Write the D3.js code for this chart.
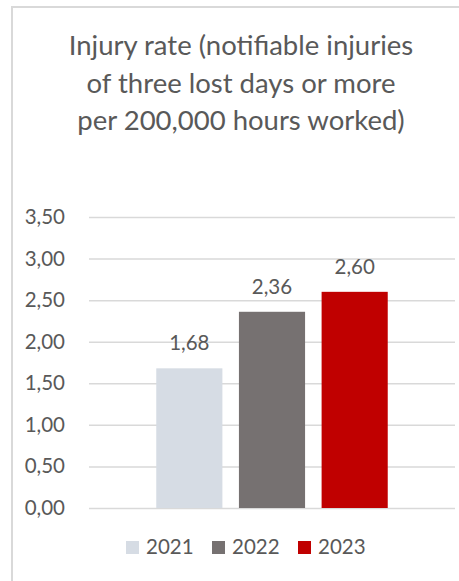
<!DOCTYPE html>
<html>
<head>
<meta charset="utf-8">
<script src="https://cdn.jsdelivr.net/npm/d3@7"></script>
<style>
  body { margin: 0; background: #fff; }
  svg text { font-family: Lato, "Open Sans", sans-serif; fill: #595959; }
</style>
</head>
<body>
<svg width="459" height="581"></svg>
<script>
// chart values
var years = ["2021", "2022", "2023"];
var rates = [1.68, 2.36, 2.60];
var colors = ["#d6dce4", "#767171", "#c00000"];
var yTicks = [0, 0.5, 1, 1.5, 2, 2.5, 3, 3.5];
var titleLines = ["Injury rate (notifiable injuries", "of three lost days or more", "per 200,000 hours worked)"];

var data = years.map(function(y, i) { return {year: y, rate: rates[i], color: colors[i]}; });

var svg = d3.select("svg"),
    margin = {top: 217, right: 4, bottom: 73, left: 89},
    width = +svg.attr("width") - margin.left - margin.right,
    height = +svg.attr("height") - margin.top - margin.bottom,
    x = d3.scaleBand().domain(years).range([59, width - 59]).paddingInner(0.2).paddingOuter(0.1),
    y = d3.scaleLinear().domain([0, 3.5]).range([height, 0]),
    fmt = function(v) { return d3.format(".2f")(v).replace(".", ","); };

// chart frame (cut off at right and bottom)
svg.append("path")
    .attr("d", "M12,600 V7 H470")
    .attr("fill", "none")
    .attr("stroke", "#d9d9d9")
    .attr("stroke-width", 2);

// title
svg.append("text")
    .attr("x", 241)
    .attr("text-anchor", "middle")
    .style("font-size", "27.5px")
    .selectAll("tspan")
    .data(titleLines)
    .enter().append("tspan")
      .attr("x", 241)
      .attr("y", function(d, i) { return 55 + i * 37.5; })
      .text(function(d) { return d; });

var g = svg.append("g").attr("transform", "translate(" + margin.left + "," + margin.top + ")");

// y axis with gridlines
var yAxis = g.append("g")
    .call(d3.axisLeft(y).tickValues(yTicks).tickSize(-width).tickFormat(fmt));
yAxis.select(".domain").remove();
yAxis.selectAll(".tick line").attr("stroke", "#d9d9d9").attr("stroke-width", 1.5);
yAxis.selectAll(".tick text")
    .attr("x", -24)
    .style("font-size", "20.5px")
    .style("font-family", "Lato, sans-serif")
    .attr("fill", "#595959");

// bars
g.selectAll(".bar")
  .data(data)
  .enter()
    .append("rect")
    .attr("class", "bar")
    .attr("x", function(d) { return x(d.year); })
    .attr("y", function(d) { return y(d.rate); })
    .attr("width", x.bandwidth())
    .attr("height", function(d) { return height - y(d.rate); })
    .attr("fill", function(d) { return d.color; });

// value labels
g.selectAll(".label")
  .data(data)
  .enter()
    .append("text")
    .attr("class", "label")
    .attr("x", function(d) { return x(d.year) + x.bandwidth() / 2; })
    .attr("y", function(d) { return y(d.rate) - 18; })
    .attr("text-anchor", "middle")
    .style("font-size", "20.5px")
    .text(function(d) { return fmt(d.rate); });

// legend
var legend = svg.append("g").attr("transform", "translate(126,541)");
var item = legend.selectAll(".item")
  .data(data)
  .enter()
    .append("g")
    .attr("class", "item")
    .attr("transform", function(d, i) { return "translate(" + i * 86 + ",0)"; });
item.append("rect")
    .attr("width", 13)
    .attr("height", 13)
    .attr("fill", function(d) { return d.color; });
item.append("text")
    .attr("x", 20)
    .attr("y", 13)
    .style("font-size", "20.5px")
    .text(function(d) { return d.year; });
</script>
</body>
</html>
